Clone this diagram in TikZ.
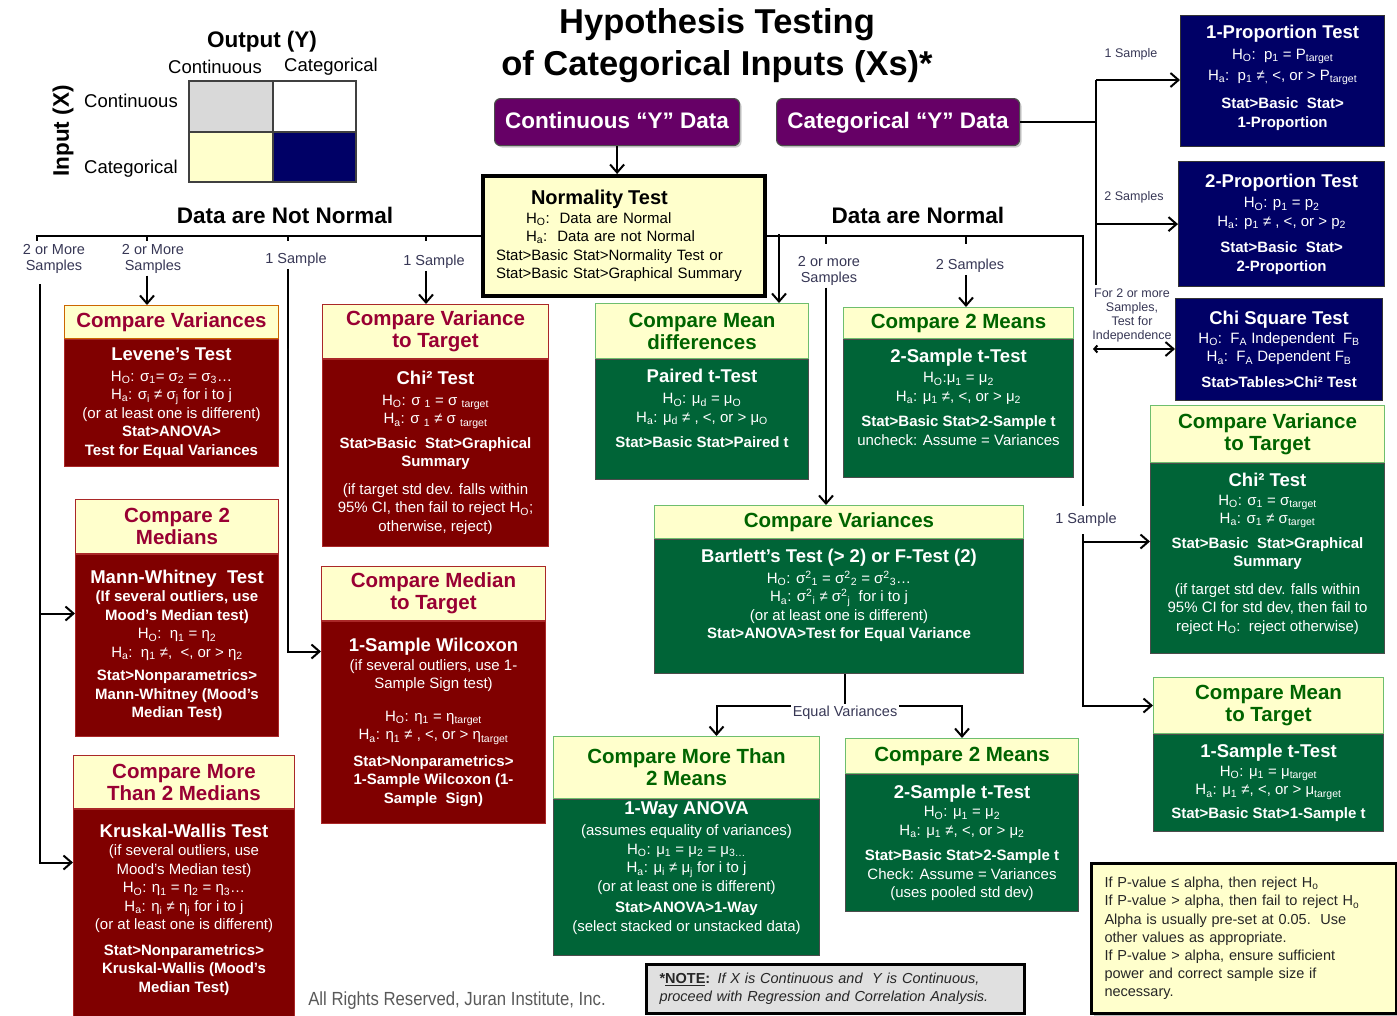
\documentclass[tikz,border=0pt]{standalone}
\usepackage{fontspec}
\setmainfont{Liberation Sans}
\usepackage{tikz}
\usetikzlibrary{arrows.meta}
\usetikzlibrary{positioning}
\usetikzlibrary{shadows}

\definecolor{hdryel}{RGB}{255,255,204}
\definecolor{maroonbox}{RGB}{128,0,0}
\definecolor{maroonline}{RGB}{170,40,40}
\definecolor{maroontxt}{RGB}{153,0,51}
\definecolor{greenbox}{RGB}{0,100,55}
\definecolor{greenline}{RGB}{110,190,110}
\definecolor{greentxt}{RGB}{0,100,0}
\definecolor{navybox}{RGB}{0,0,102}
\definecolor{purplebox}{RGB}{102,0,102}
\definecolor{gridgray}{RGB}{217,217,217}
\definecolor{notegray}{RGB}{224,224,224}
\definecolor{lblc}{RGB}{55,55,85}

\newcommand\bodyfont{\fontsize{15}{18.5}\selectfont}
\newcommand\hdrfont{\bfseries\fontsize{20.5}{22}\selectfont}
\newcommand\lblfont{\fontsize{14.5}{16}\selectfont}
\newcommand\ttl[1]{{\bfseries\fontsize{18.5}{20}\selectfont #1}}
\newcommand\Ho{H\textsubscript{O}}
\newcommand\Ha{H\textsubscript{a}}
\newcommand\sqsub[1]{\textsuperscript{2}\textsubscript{#1}}

\tikzset{
    cell/.style = {anchor=north west, draw=black!75, line width=1.5pt, inner sep=0pt},
    lbl/.style = {align=center, inner sep=1pt, text=lblc, font=\lblfont},
    smlbl/.style = {lbl, font=\fontsize{12.5}{14}\selectfont},
    bigtxt/.style = {inner sep=1pt, font=\bfseries\fontsize{22.5}{24}\selectfont},
    legtxt/.style = {inner sep=1pt, font=\fontsize{18.5}{20}\selectfont},
    ybox/.style = {anchor=north west, rounded corners=6pt, draw=black!70, line width=1.2pt, fill=purplebox, text=white,
        text height=16pt, text depth=4pt,
        font=\bfseries\fontsize{22.5}{24}\selectfont, drop shadow={opacity=0.4, shadow xshift=2pt, shadow yshift=-2pt}},
    nrmbox/.style = {anchor=north west, draw=black, line width=4pt, fill=hdryel, align=left, inner xsep=13pt, font=\bodyfont},
    mhead/.style = {anchor=north west, align=center, inner sep=1pt, draw=maroonline, line width=1pt, fill=hdryel, text=maroontxt, font=\hdrfont},
    mbody/.style = {align=center, inner sep=2pt, draw=maroonline, line width=1pt, fill=maroonbox, text=white, font=\bodyfont},
    ghead/.style = {mhead, draw=greenline, text=greentxt},
    gbody/.style = {mbody, draw=black!70, fill=greenbox},
    nbox/.style = {anchor=north west, align=center, inner sep=2pt, draw=black!80, line width=1.2pt, fill=navybox, text=white, font=\bodyfont},
    notebox/.style = {anchor=north west, align=left, draw=black, line width=3pt, inner xsep=13pt, text=black!85}
}

\begin{document}
\begin{tikzpicture}
    [x=1pt, y=-1pt, line width=2pt, >={Straight Barb[length=8pt,width=14pt]}]

    \useasboundingbox (0,0) rectangle (1397,1015);

    % legend
    \node[cell, fill=gridgray, minimum width=84, minimum height=51] (g11) at (188,80) {};
    \node[cell, fill=white, minimum width=83, minimum height=51] (g12) at (272,80) {};
    \node[cell, fill=hdryel, minimum width=84, minimum height=50] (g21) at (188,131) {};
    \node[cell, fill=navybox, minimum width=83, minimum height=50] (g22) at (272,131) {};
    \node[bigtxt] (outY) at (262,42) {Output (Y)};
    \node[legtxt] (oCont) at (215,67) {Continuous};
    \node[legtxt] (oCat) at (331,67) {Categorical};
    \node[legtxt] (iCont) at (131,101) {Continuous};
    \node[legtxt] (iCat) at (131,169) {Categorical};
    \node[bigtxt, rotate=90] (inX) at (63,131) {Input (X)};

    % title
    \node[align=center, font=\bfseries\fontsize{34.5}{42}\selectfont] (title) at (717,46)
        {Hypothesis Testing\\of Categorical Inputs (Xs)*};

    \node[ybox, minimum width=245, minimum height=47] (contY) at (494,98) {Continuous “Y” Data};
    \node[ybox, minimum width=243, minimum height=47] (catY) at (776,98) {Categorical “Y” Data};

    \node[nrmbox, minimum width=282, minimum height=120, text width=256] (nrm) at (481,174) {
        \hspace*{35pt}{\bfseries\fontsize{20}{22}\selectfont Normality Test}\\
        \hspace*{30pt}\Ho:\ \ Data are Normal\\
        \hspace*{30pt}\Ha:\ \ Data are not Normal\\
        Stat>Basic Stat>Normality Test or\\
        Stat>Basic Stat>Graphical Summary};

    \node[bigtxt] (notN) at (285,215) {Data are Not Normal};
    \node[bigtxt] (isN) at (918,215) {Data are Normal};

    % data are not normal
    \node[mhead, draw=orange!80!black, minimum width=214, minimum height=33] (cvLH) at (64,305) {Compare Variances};
    \node[mbody, minimum width=214, minimum height=127, below=0pt of cvLH] (cvL) {
        \ttl{Levene’s Test}\\[2pt]
        \Ho: σ\textsubscript{1}= σ\textsubscript{2} = σ\textsubscript{3}…\\
        \Ha: σ\textsubscript{i} ≠ σ\textsubscript{j} for i to j\\
        (or at least one is different)\\
        \textbf{Stat>ANOVA>}\\
        \textbf{Test for Equal Variances}};

    \node[mhead, minimum width=203, minimum height=54] (c2medH) at (75,499) {Compare 2\\Medians};
    \node[mbody, minimum width=203, minimum height=182, below=0pt of c2medH] (c2med) {
        \ttl{Mann-Whitney\ \ Test}\\
        \textbf{(If several outliers, use}\\
        \textbf{Mood’s Median test)}\\
        \Ho:\ \ η\textsubscript{1} = η\textsubscript{2}\\
        \Ha:\ \ η\textsubscript{1} ≠,\ \ <, or > η\textsubscript{2}\\[5pt]
        \textbf{Stat>Nonparametrics>}\\
        \textbf{Mann-Whitney (Mood’s}\\
        \textbf{Median Test)}};

    \node[mhead, minimum width=221, minimum height=53] (cmoreH) at (73,755) {Compare More\\Than 2 Medians};
    \node[mbody, minimum width=221, minimum height=212, below=0pt of cmoreH] (cmore) {
        \ttl{Kruskal-Wallis Test}\\
        (if several outliers, use\\
        Mood’s Median test)\\
        \Ho: η\textsubscript{1} = η\textsubscript{2} = η\textsubscript{3}…\\
        \Ha: η\textsubscript{i} ≠ η\textsubscript{j} for i to j\\
        (or at least one is different)\\[7pt]
        \textbf{Stat>Nonparametrics>}\\
        \textbf{Kruskal-Wallis (Mood’s}\\
        \textbf{Median Test)}\\[-4pt]};

    \node[mhead, minimum width=226, minimum height=54] (cvtLH) at (322,304) {Compare Variance\\to Target};
    \node[mbody, minimum width=226, minimum height=187, below=0pt of cvtLH] (cvtL) {
        \ttl{Chi² Test}\\[2pt]
        \Ho: σ \textsubscript{1} = σ \textsubscript{target}\\
        \Ha: σ \textsubscript{1} ≠ σ \textsubscript{target}\\[6pt]
        \textbf{Stat>Basic\ \ Stat>Graphical}\\
        \textbf{Summary}\\[9pt]
        (if target std dev. falls within\\
        95\% CI, then fail to reject H\textsubscript{O};\\
        otherwise, reject)};

    \node[mhead, minimum width=224, minimum height=54] (cmedTH) at (321,566) {Compare Median\\to Target};
    \node[mbody, minimum width=224, minimum height=202, below=0pt of cmedTH] (cmedT) {
        \ttl{1-Sample Wilcoxon}\\
        (if several outliers, use 1-\\
        Sample Sign test)\\[14pt]
        \Ho: η\textsubscript{1} = η\textsubscript{target}\\
        \Ha: η\textsubscript{1} ≠ , <, or > η\textsubscript{target}\\[8pt]
        \textbf{Stat>Nonparametrics>}\\
        \textbf{1-Sample Wilcoxon (1-}\\
        \textbf{Sample\ \ Sign)}};

    % data are normal
    \node[ghead, minimum width=213, minimum height=55] (cmdH) at (595,303) {Compare Mean\\differences};
    \node[gbody, minimum width=213, minimum height=120, below=0pt of cmdH] (cmd) {
        \ttl{Paired t-Test}\\[3pt]
        \Ho: μ\textsubscript{d} = μ\textsubscript{O}\\
        \Ha: μ\textsubscript{d} ≠ , <, or > μ\textsubscript{O}\\[7pt]
        \textbf{Stat>Basic Stat>Paired t}\\[4pt]};

    \node[ghead, minimum width=230, minimum height=31] (c2mUH) at (843,307) {Compare 2 Means};
    \node[gbody, minimum width=230, minimum height=138, below=0pt of c2mUH] (c2mU) {
        \ttl{2-Sample t-Test}\\[2pt]
        \Ho:μ\textsubscript{1} = μ\textsubscript{2}\\
        \Ha: μ\textsubscript{1} ≠, <, or > μ\textsubscript{2}\\[7pt]
        \textbf{Stat>Basic Stat>2-Sample t}\\
        uncheck: Assume = Variances\\[4pt]};

    \node[ghead, minimum width=369, minimum height=33] (cvGH) at (654,505) {Compare Variances};
    \node[gbody, minimum width=369, minimum height=134, below=0pt of cvGH] (cvG) {
        \ttl{Bartlett’s Test (> 2) or F-Test (2)}\\[2pt]
        \Ho: σ\sqsub{1} = σ\sqsub{2} = σ\sqsub{3}…\\
        \Ha: σ\sqsub{i} ≠ σ\sqsub{j}\ \ for i to j\\
        (or at least one is different)\\
        \textbf{Stat>ANOVA>Test for Equal Variance}\\[6pt]};

    \node[ghead, minimum width=266, minimum height=62] (cm3H) at (553,736) {Compare More Than\\2 Means};
    \node[gbody, minimum width=266, minimum height=148, below=0pt of cm3H] (cm3) {
        \ttl{1-Way ANOVA}\\[3pt]
        (assumes equality of variances)\\
        \Ho: μ\textsubscript{1} = μ\textsubscript{2} = μ\textsubscript{3…}\\
        \Ha: μ\textsubscript{i} ≠ μ\textsubscript{j} for i to j\\
        (or at least one is different)\\[3pt]
        \textbf{Stat>ANOVA>1-Way}\\
        (select stacked or unstacked data)\\[4pt]};

    \node[ghead, minimum width=233, minimum height=35] (c2mLH) at (845,738) {Compare 2 Means};
    \node[gbody, minimum width=233, minimum height=137, below=0pt of c2mLH] (c2mL) {
        \ttl{2-Sample t-Test}\\
        \Ho: μ\textsubscript{1} = μ\textsubscript{2}\\
        \Ha: μ\textsubscript{1} ≠, <, or > μ\textsubscript{2}\\[7pt]
        \textbf{Stat>Basic Stat>2-Sample t}\\
        Check: Assume = Variances\\
        (uses pooled std dev)};

    \node[ghead, minimum width=234, minimum height=57] (cvtRH) at (1150,405) {Compare Variance\\to Target};
    \node[gbody, minimum width=234, minimum height=190, below=0pt of cvtRH] (cvtR) {
        \ttl{Chi² Test}\\
        \Ho: σ\textsubscript{1} = σ\textsubscript{target}\\
        \Ha: σ\textsubscript{1} ≠ σ\textsubscript{target}\\[6pt]
        \textbf{Stat>Basic\ \ Stat>Graphical}\\
        \textbf{Summary}\\[9pt]
        (if target std dev. falls within\\
        95\% CI for std dev, then fail to\\
        reject H\textsubscript{O}:\ \ reject otherwise)\\[-6pt]};

    \node[ghead, minimum width=230, minimum height=56] (cmTH) at (1153,677) {Compare Mean\\to Target};
    \node[gbody, minimum width=230, minimum height=97, below=0pt of cmTH] (cmT) {
        \ttl{1-Sample t-Test}\\
        \Ho: μ\textsubscript{1} = μ\textsubscript{target}\\
        \Ha: μ\textsubscript{1} ≠, <, or > μ\textsubscript{target}\\[5pt]
        \textbf{Stat>Basic Stat>1-Sample t}};

    % categorical Y
    \node[nbox, minimum width=204, minimum height=131] (p1) at (1180,15) {
        \ttl{1-Proportion Test}\\[3pt]
        \Ho:\ \ p\textsubscript{1} = P\textsubscript{target}\\[2pt]
        \Ha:\ \ p\textsubscript{1} ≠\textsubscript{,} <, or > P\textsubscript{target}\\[10pt]
        \textbf{Stat>Basic\ \ Stat>}\\
        \textbf{1-Proportion}\\[-8pt]};
    \node[nbox, minimum width=206, minimum height=125] (p2) at (1178,161) {
        \ttl{2-Proportion Test}\\[2pt]
        \Ho: p\textsubscript{1} = p\textsubscript{2}\\
        \Ha: p\textsubscript{1} ≠ , <, or > p\textsubscript{2}\\[8pt]
        \textbf{Stat>Basic\ \ Stat>}\\
        \textbf{2-Proportion}};
    \node[nbox, minimum width=207, minimum height=102] (chi) at (1175,298) {
        \ttl{Chi Square Test}\\
        \Ho:\ \ F\textsubscript{A} Independent\ \ F\textsubscript{B}\\
        \Ha:\ \ F\textsubscript{A} Dependent F\textsubscript{B}\\[7pt]
        \textbf{Stat>Tables>Chi² Test}};

    % branch labels
    \node[lbl] (nn1) at (54,259) {2 or More\\Samples};
    \node[lbl] (nn2) at (153,259) {2 or More\\Samples};
    \node[lbl] (nn3) at (296,260) {1 Sample};
    \node[lbl] (nn4) at (434,262) {1 Sample};
    \node[lbl] (ns2) at (829,271) {2 or more\\Samples};
    \node[lbl] (ns3) at (970,266) {2 Samples};
    \node[lbl] (ns1) at (1086,520) {1 Sample};
    \node[lbl] (eqv) at (845,713) {Equal Variances};
    \node[smlbl] (cl1) at (1131,54) {1 Sample};
    \node[smlbl] (cl2) at (1134,197) {2 Samples};
    \node[smlbl] (cl3) at (1132,315) {For 2 or more\\Samples,\\Test for\\Independence};

    % connectors
    \draw[->] (contY.south) -- (contY.south |- nrm.north);

    \coordinate (nnL) at (37,241);
    \coordinate (nnA) at (147,241);
    \coordinate (nnB) at (288,241);
    \coordinate (nnC) at (426,241);
    \coordinate (nnL2) at (40,284);
    \draw (nrm.west) -| (nnL);
    \foreach \p in {nnA,nnB,nnC}
        \draw (\p |- nrm.west) -- (\p);
    \draw[->] (nnL2) |- ([yshift=32]c2med.west);
    \draw[->] (nnL2) |- ([yshift=53]cmore.west);
    \draw[->] (nnA |- nn2.south) -- (nnA |- cvLH.north);
    \draw[->] (nnB |- nn3.south) |- ([yshift=71]cmedT.west);
    \draw[->] (nnC |- nn4.south) -- (nnC |- cvtLH.north);

    \coordinate (nbA) at (779,234);
    \coordinate (nbB) at (826,244);
    \coordinate (nbC) at (966,244);
    \coordinate (nbD) at (1083,506);
    \coordinate (nbE) at (1083,534);
    \draw (nrm.east) -| (nbD);
    \draw[->] (nbA) -- (nbA |- cmdH.north);
    \draw (nbB |- nrm.east) -- (nbB);
    \draw (nbC |- nrm.east) -- (nbC);
    \draw[->] (nbB |- ns2.south) -- (nbB |- cvGH.north);
    \draw[->] (nbC |- ns3.south) -- (nbC |- c2mUH.north);
    \draw[->] (nbE) |- ([yshift=17]cvtR.west);
    \draw[->] (nbE) |- (cmTH.west);

    \draw (eqv.north |- cvG.south) -- (eqv.north);
    \draw[->] ([yshift=7]eqv.west) -| ([xshift=30]cm3H.north);
    \draw[->] ([yshift=7]eqv.east) -| (c2mLH.north);

    \coordinate (cyT) at (1096,80);
    \coordinate (cyB) at (1096,285);
    \coordinate (cyI) at (1093,349);
    \draw (cyT) -- (cyB);
    \draw (catY.east) -- (catY.east -| cyT);
    \draw[->] (cyT) -- (cyT -| p1.west);
    \draw[->] (cyT |- p2.west) -- (p2.west);
    \draw[{Straight Barb[length=3pt,width=7pt]}->] (cyI) -- (cyI -| chi.west);

    % notes
    \node[notebox, fill=hdryel, minimum width=305, minimum height=150, text width=279,
        font=\fontsize{14.5}{18.2}\selectfont, drop shadow={opacity=0.5, shadow xshift=2pt, shadow yshift=-2pt}] (rule) at (1090,862) {
        If P-value ≤ alpha, then reject H\textsubscript{o}\\
        If P-value > alpha, then fail to reject H\textsubscript{o}\\
        Alpha is usually pre-set at 0.05.\ \ Use\\
        other values as appropriate.\\
        If P-value > alpha, ensure sufficient\\
        power and correct sample size if\\
        necessary.};
    \node[notebox, fill=notegray, minimum width=378, minimum height=49, text width=352,
        font=\fontsize{14.5}{18}\selectfont] (note) at (645,963) {
        \textbf{*\underline{NOTE}:} \itshape If X is Continuous and\ \ Y is Continuous,\\
        \itshape proceed with Regression and Correlation Analysis.};
    \node[text=black!65, font=\fontsize{19}{20}\selectfont] (rights) at (457,1001)
        {\scalebox{0.88}[1]{All Rights Reserved, Juran Institute, Inc.}};
\end{tikzpicture}
\end{document}
